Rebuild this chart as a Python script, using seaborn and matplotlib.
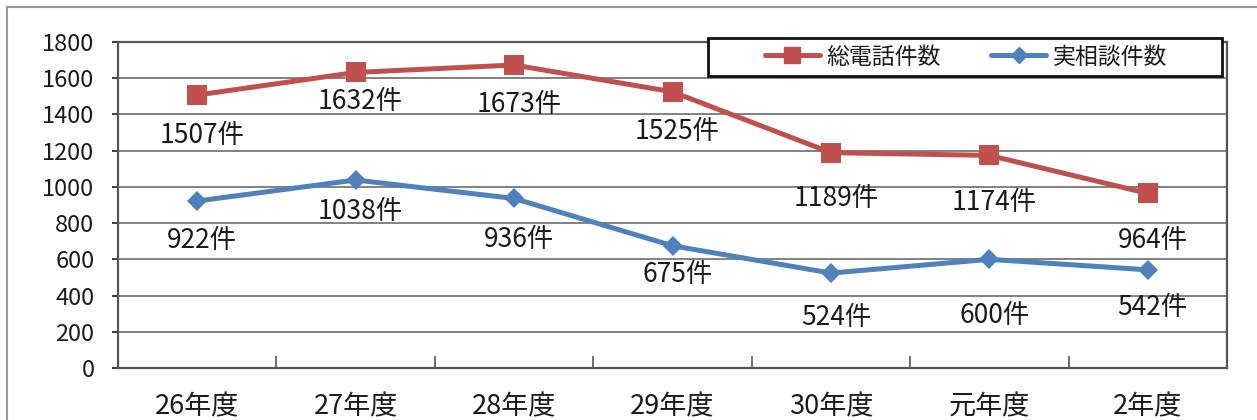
import numpy as np
import pandas as pd
import matplotlib
matplotlib.use("Agg")
import matplotlib.pyplot as plt
from matplotlib.lines import Line2D
from matplotlib.patches import Rectangle
import seaborn as sns

# -----------------------------
# data
# -----------------------------
years = ["26年度", "27年度", "28年度", "29年度", "30年度", "元年度", "2年度"]
total_calls = [1507, 1632, 1673, 1525, 1189, 1174, 964]
actual_consults = [922, 1038, 936, 675, 524, 600, 542]
series_names = ["総電話件数", "実相談件数"]

# label offsets below each point (pixels)
total_dy = [40, 29, 39, 40, 46, 47, 47]
actual_dy = [39, 31, 41, 29, 44, 56, 38]

red = "#C0504D"
blue = "#4F81BD"
text_col = "#1a1a1a"

sns.set_theme(style="white")
plt.rcParams["font.family"] = ["Noto Sans CJK JP", "DejaVu Sans"]

df = pd.DataFrame({
    "year": years * 2,
    "pos": list(range(len(years))) * 2,
    "value": total_calls + actual_consults,
    "series": [series_names[0]] * len(years) + [series_names[1]] * len(years),
})

fig = plt.figure(figsize=(12.57, 4.2), dpi=100)
ax = fig.add_axes([118 / 1257, 1 - 368 / 420, 1109 / 1257, 326 / 420])

sns.lineplot(data=df, x="pos", y="value", hue="series", style="series",
             palette=[red, blue], markers=["s", "D"], dashes=False,
             linewidth=3.6, markeredgewidth=0, ax=ax, legend=False)
for line, ms in zip(ax.lines, [14, 10.5]):
    line.set_markersize(ms)

# data labels
for vals, dys in [(total_calls, total_dy), (actual_consults, actual_dy)]:
    for i, (v, dy) in enumerate(zip(vals, dys)):
        ax.annotate(f"{v}件", (i, v), xytext=(5, -dy), textcoords="offset pixels",
                    ha="center", va="center", fontsize=19, color=text_col)

# axes
ax.set_xlim(-0.5, len(years) - 0.5)
ax.set_ylim(0, 1800)
ax.set_yticks(np.arange(0, 1801, 200))
ax.set_xticks(range(len(years)))
ax.set_xticklabels(years)
ax.set_xticks(np.arange(-0.5, len(years), 1), minor=True)
ax.tick_params(axis="y", labelsize=17, colors=text_col, length=4, width=1.2,
               direction="out", left=True, pad=13)
ax.tick_params(axis="x", which="major", labelsize=19.5, colors=text_col,
               length=0, pad=18)
ax.tick_params(axis="x", which="minor", length=9, width=1.2, direction="in",
               color="#555555", bottom=True)
ax.set_xlabel("")
ax.set_ylabel("")
ax.yaxis.grid(True, color="#777777", linewidth=1.3)
ax.set_axisbelow(True)
for s in ax.spines.values():
    s.set_color("#555555")
    s.set_linewidth(1.6)

# legend: box drawn separately, entries centred inside it
box = Rectangle((708 / 1257, 1 - 76 / 420), 514 / 1257, 38 / 420,
                transform=fig.transFigure, facecolor="white",
                edgecolor="#111111", linewidth=2, zorder=4)
fig.add_artist(box)
handles = [
    Line2D([], [], color=red, marker="s", linewidth=3.6, markersize=12),
    Line2D([], [], color=blue, marker="D", linewidth=3.6, markersize=8),
]
leg = fig.legend(handles, series_names, loc="center", ncol=2,
                 bbox_to_anchor=(966 / 1257, 1 - 57 / 420),
                 fontsize=16.5, frameon=False, handlelength=2.4,
                 handletextpad=0.3, columnspacing=2.2, borderaxespad=0)
for t in leg.get_texts():
    t.set_color(text_col)
leg.set_zorder(5)

# outer chart border (top and left visible in scan)
fig.add_artist(Line2D([7 / 1257, 1], [1 - 7 / 420, 1 - 7 / 420],
                      transform=fig.transFigure, color="#999999", linewidth=1.5))
fig.add_artist(Line2D([7 / 1257, 7 / 1257], [0, 1 - 7 / 420],
                      transform=fig.transFigure, color="#999999", linewidth=1.5))

plt.savefig("out.png", dpi=100)
